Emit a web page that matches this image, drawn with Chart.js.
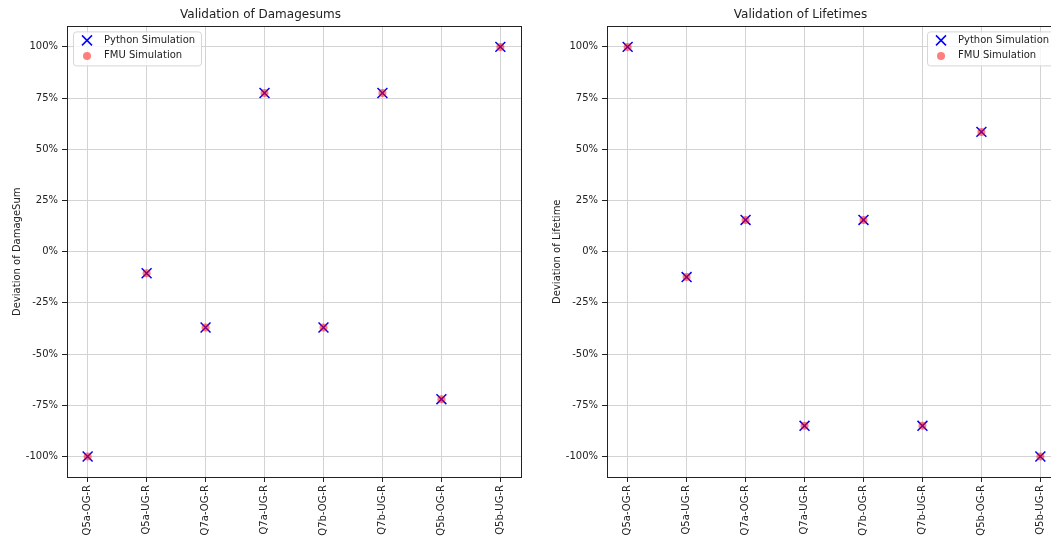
<!DOCTYPE html>
<html>
<head>
<meta charset="utf-8">
<script src="https://cdn.jsdelivr.net/npm/chart.js@4.4.1/dist/chart.umd.min.js"></script>
<style>
    html, body { margin: 0; padding: 0; background: #fff; overflow: hidden; width: 1051px; height: 537px; }
    .panel { position: absolute; top: 0; width: 530px; height: 537px; }
    #leftPanel { left: 0; }
    #rightPanel { left: 540px; }
</style>
</head>
<body>
<div class="panel" id="leftPanel"><canvas id="damageChart"></canvas></div>
<div class="panel" id="rightPanel"><canvas id="lifetimeChart"></canvas></div>
<script>
///////////////////////
// data
///////////////////////
const categories = ['Q5a-OG-R', 'Q5a-UG-R', 'Q7a-OG-R', 'Q7a-UG-R', 'Q7b-OG-R', 'Q7b-UG-R', 'Q5b-OG-R', 'Q5b-UG-R'];
const damagePython = [-100, -10.5, -37, 77.5, -37, 77.5, -72, 100];
const damageFmu = [-100, -10.5, -37, 77.5, -37, 77.5, -72, 100];
const lifetimePython = [100, -12.4, 15.5, -85, 15.5, -85, 58.5, -100];
const lifetimeFmu = [100, -12.4, 15.5, -85, 15.5, -85, 58.5, -100];
const yTickValues = [-100, -75, -50, -25, 0, 25, 50, 75, 100];

Chart.defaults.font.family = "'DejaVu Sans', sans-serif";
Chart.defaults.font.size = 10;
Chart.defaults.color = '#222';

const GRID_COLOR = '#d3d3d3';
const TEXT_COLOR = '#222';

///////////////////////
// helpers
///////////////////////

// draw marker glyph for legend
function drawMarker(ctx, ds, x, y) {
    if (ds.pointStyle === 'crossRot') {
        ctx.strokeStyle = ds.borderColor;
        ctx.lineWidth = 1.5;
        ctx.beginPath();
        ctx.moveTo(x - 5, y - 5); ctx.lineTo(x + 5, y + 5);
        ctx.moveTo(x + 5, y - 5); ctx.lineTo(x - 5, y + 5);
        ctx.stroke();
    } else {
        ctx.fillStyle = ds.backgroundColor;
        ctx.beginPath();
        ctx.arc(x, y, 4, 0, Math.PI * 2);
        ctx.fill();
    }
}

// frame (all four spines) + legend inside the plot area
const frameAndLegend = {
    id: 'frameAndLegend',
    afterDatasetsDraw(chart) {
        const { ctx, chartArea } = chart;
        ctx.save();
        ctx.strokeStyle = TEXT_COLOR;
        ctx.lineWidth = 1;
        ctx.strokeRect(Math.round(chartArea.left) + 0.5, Math.round(chartArea.top) + 0.5,
            Math.round(chartArea.right - chartArea.left), Math.round(chartArea.bottom - chartArea.top));
        ctx.restore();
    },
    afterDraw(chart, args, opts) {
        const { ctx, chartArea } = chart;
        const w = 128, h = 34;
        const x = opts.corner === 'right' ? chartArea.right - 6 - w : chartArea.left + 6;
        const y = chartArea.top + 5;
        ctx.save();
        ctx.beginPath();
        ctx.roundRect(x + 0.5, y + 0.5, w, h, 3);
        ctx.fillStyle = 'rgba(255,255,255,0.8)';
        ctx.fill();
        ctx.strokeStyle = '#d6d6d6';
        ctx.lineWidth = 1;
        ctx.stroke();
        ctx.font = "10px 'DejaVu Sans', sans-serif";
        ctx.textBaseline = 'middle';
        chart.data.datasets.forEach((ds, i) => {
            const my = y + 9 + i * 15.5;
            drawMarker(ctx, ds, x + 14, my);
            ctx.fillStyle = TEXT_COLOR;
            ctx.fillText(ds.label, x + 31, my);
        });
        ctx.restore();
    }
};

// build scatter datasets
function createDatasets(pythonValues, fmuValues) {
    return [
        {
            label: 'Python Simulation',
            data: pythonValues.map((v, i) => ({ x: i, y: v })),
            pointStyle: 'crossRot',
            pointRadius: 7,
            borderColor: 'blue',
            backgroundColor: 'blue',
            borderWidth: 1.5,
            order: 1
        },
        {
            label: 'FMU Simulation',
            data: fmuValues.map((v, i) => ({ x: i, y: v })),
            pointStyle: 'circle',
            pointRadius: 4,
            borderWidth: 0,
            borderColor: 'rgba(255,0,0,0)',
            backgroundColor: 'rgba(255,0,0,0.5)',
            order: 0
        }
    ];
}

// render one panel
function renderPanel(canvasId, title, yTitle, pythonValues, fmuValues, legendCorner) {
    const ctx = document.getElementById(canvasId).getContext('2d');
    return new Chart(ctx, {
        type: 'scatter',
        data: { datasets: createDatasets(pythonValues, fmuValues) },
        plugins: [frameAndLegend],
        options: {
            responsive: true,
            maintainAspectRatio: false,
            animation: false,
            layout: { padding: { left: 0, right: 9, top: 0, bottom: 0 } },
            scales: {
                x: {
                    type: 'linear',
                    min: -0.35,
                    max: 7.35,
                    afterBuildTicks: scale => { scale.ticks = categories.map((c, i) => ({ value: i })); },
                    afterFit: scale => { scale.height = 60; },
                    ticks: {
                        autoSkip: false,
                        minRotation: 90,
                        maxRotation: 90,
                        padding: 3,
                        color: TEXT_COLOR,
                        callback: v => categories[v]
                    },
                    grid: { color: GRID_COLOR, tickColor: TEXT_COLOR, tickLength: 5 },
                    border: { display: false }
                },
                y: {
                    min: -110,
                    max: 110,
                    afterBuildTicks: scale => { scale.ticks = yTickValues.map(v => ({ value: v })); },
                    afterFit: scale => { scale.width = 67; },
                    ticks: { padding: 4, color: TEXT_COLOR, callback: v => v + '%' },
                    grid: { color: GRID_COLOR, tickColor: TEXT_COLOR, tickLength: 5 },
                    border: { display: false },
                    title: { display: true, text: yTitle, color: TEXT_COLOR, font: { size: 10 }, padding: { top: 11, bottom: 0 } }
                }
            },
            plugins: {
                title: { display: true, text: title, color: TEXT_COLOR, font: { size: 12, weight: 'normal' }, padding: { top: 8, bottom: 4 } },
                legend: { display: false },
                tooltip: { enabled: false },
                frameAndLegend: { corner: legendCorner }
            }
        }
    });
}

// initial render
const damageChart = renderPanel('damageChart', 'Validation of Damagesums', 'Deviation of DamageSum', damagePython, damageFmu, 'left');
const lifetimeChart = renderPanel('lifetimeChart', 'Validation of Lifetimes', 'Deviation of Lifetime', lifetimePython, lifetimeFmu, 'right');
</script>
</body>
</html>
